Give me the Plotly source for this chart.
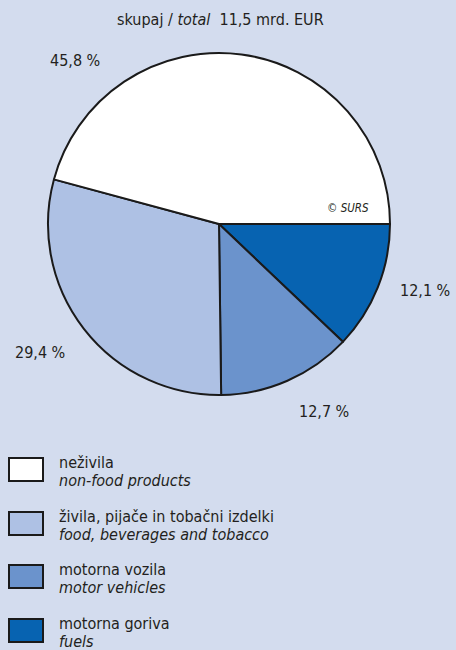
import plotly.graph_objects as go

labels_si = ["motorna goriva", "motorna vozila", "živila, pijače in tobačni izdelki", "neživila"]
labels_en = ["fuels", "motor vehicles", "food, beverages and tobacco", "non-food products"]
shares = [12.1, 12.7, 29.4, 45.8]
share_text = ["12,1 %", "12,7 %", "29,4 %", "45,8 %"]
colors = ["#0763b1", "#6b93cc", "#aec1e4", "#ffffff"]
title_text = "skupaj / <i>total</i>  11,5 mrd. EUR"

W, H = 456, 650
BG = "#d3dcee"
FONT = "DejaVu Sans Condensed, Liberation Sans Narrow, Arial Narrow, sans-serif"
TXT = "#231f20"

fig = go.Figure()
fig.add_trace(go.Pie(
    labels=labels_en, values=shares, sort=False, direction="clockwise",
    rotation=90, textinfo="none", hoverinfo="label+percent",
    marker=dict(colors=colors, line=dict(color="#1a1a1a", width=2)),
    domain=dict(x=[48 / W, 390 / W], y=[1 - 397 / H, 1 - 51 / H]),
    showlegend=False,
))

def px(x):
    return x / W

def py(y):
    return 1 - y / H

ann = []
ann.append(dict(x=px(220), y=py(19), text=title_text, showarrow=False,
                font=dict(size=16, family=FONT, color=TXT), xanchor="center", yanchor="middle"))
# anchor x for each share label (right-anchored values use the right edge)
label_pos = [(452, 290, "right"), (297, 411, "left"), (13, 352, "left"), (48, 61, "left")]
for (x, y, xa), t in zip(label_pos, share_text):
    ann.append(dict(x=px(x), y=py(y), text=t, showarrow=False, xanchor=xa, yanchor="middle",
                    font=dict(size=16, family=FONT, color=TXT)))
ann.append(dict(x=px(371), y=py(208), text="<i>© SURS</i>", showarrow=False, xanchor="right",
                yanchor="middle", font=dict(size=11.5, family=FONT, color=TXT)))

shapes = []
legend_order = [3, 2, 1, 0]
box_tops = [458, 512, 565, 619]
for top, i in zip(box_tops, legend_order):
    shapes.append(dict(type="rect", xref="paper", yref="paper",
                       x0=px(9), x1=px(43), y0=py(top), y1=py(top + 23),
                       fillcolor=colors[i], line=dict(color="#1a1a1a", width=2)))
    ann.append(dict(x=px(57), y=py(top + 4), text=labels_si[i], showarrow=False, xanchor="left",
                    yanchor="middle", font=dict(size=16, family=FONT, color=TXT)))
    ann.append(dict(x=px(57), y=py(top + 22), text="<i>" + labels_en[i] + "</i>", showarrow=False,
                    xanchor="left", yanchor="middle", font=dict(size=16, family=FONT, color=TXT)))

fig.update_layout(
    width=W, height=H, margin=dict(l=0, r=0, t=0, b=0),
    paper_bgcolor=BG, plot_bgcolor=BG,
    annotations=ann, shapes=shapes,
)
fig.write_html("out.html", config={"displayModeBar": False},
               post_script="document.body.style.margin='0';document.body.style.overflow='hidden';")
